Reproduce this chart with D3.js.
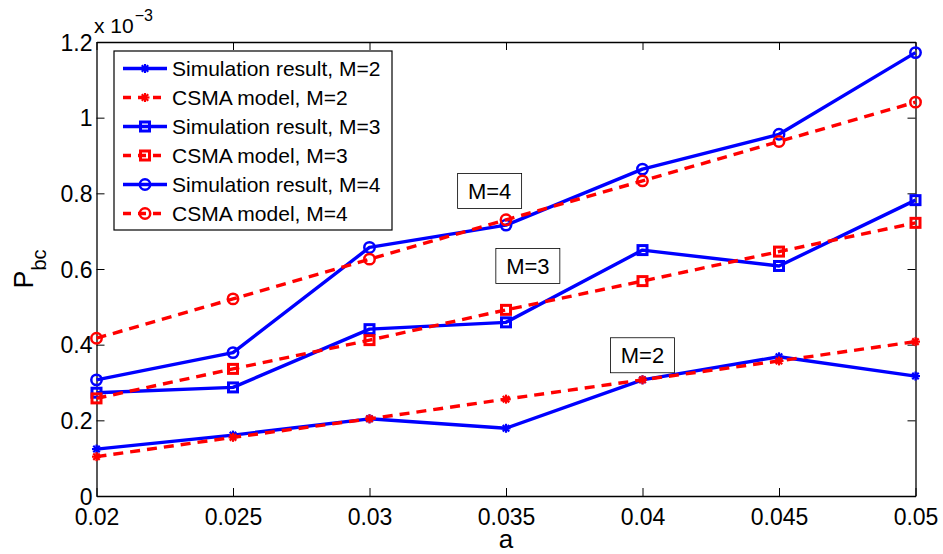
<!DOCTYPE html>
<html>
<head>
<meta charset="utf-8">
<script src="https://cdn.jsdelivr.net/npm/d3@7"></script>
<style>
  body { margin: 0; background: #fff; }
  text { font-family: "Liberation Sans", Arial, sans-serif; fill: #000; }
</style>
</head>
<body>
<script>
// a values (x axis)
const aValues = [0.02, 0.025, 0.03, 0.035, 0.04, 0.045, 0.05];

// P_bc values, in units of 1e-3
const simM2 = [0.124, 0.161, 0.204, 0.179, 0.307, 0.368, 0.317];
const csmaM2 = [0.104, 0.155, 0.204, 0.256, 0.307, 0.357, 0.408];
const simM3 = [0.273, 0.287, 0.441, 0.459, 0.650, 0.608, 0.782];
const csmaM3 = [0.258, 0.336, 0.412, 0.492, 0.568, 0.646, 0.722];
const simM4 = [0.307, 0.379, 0.657, 0.716, 0.864, 0.956, 1.172];
const csmaM4 = [0.417, 0.521, 0.626, 0.730, 0.833, 0.937, 1.041];

const xTicks = [0.02, 0.025, 0.03, 0.035, 0.04, 0.045, 0.05];
const xTickLabels = ["0.02", "0.025", "0.03", "0.035", "0.04", "0.045", "0.05"];
const yTicks = [0, 0.2, 0.4, 0.6, 0.8, 1, 1.2];
const yTickLabels = ["0", "0.2", "0.4", "0.6", "0.8", "1", "1.2"];

const series = [
  { name: "Simulation result, M=2", values: simM2, color: "#0000ff", dash: null, marker: "star" },
  { name: "CSMA model, M=2", values: csmaM2, color: "#ff0000", dash: "10,7", marker: "star" },
  { name: "Simulation result, M=3", values: simM3, color: "#0000ff", dash: null, marker: "square" },
  { name: "CSMA model, M=3", values: csmaM3, color: "#ff0000", dash: "10,7", marker: "square" },
  { name: "Simulation result, M=4", values: simM4, color: "#0000ff", dash: null, marker: "circle" },
  { name: "CSMA model, M=4", values: csmaM4, color: "#ff0000", dash: "10,7", marker: "circle" }
];

// annotation boxes: label, a position, value position (center)
const notes = [
  { label: "M=4", a: 0.0344, v: 0.806 },
  { label: "M=3", a: 0.0358, v: 0.608 },
  { label: "M=2", a: 0.0400, v: 0.372 }
];

const width = 943, height = 554;
const margin = { left: 96.5, right: 943 - 915.5, top: 42, bottom: 554 - 496 };

const svg = d3.select("body").append("svg")
    .attr("width", width)
    .attr("height", height);

const x = d3.scaleLinear().domain([0.02, 0.05]).range([margin.left, width - margin.right]);
const y = d3.scaleLinear().domain([0, 1.2]).range([height - margin.bottom, margin.top]);

const x0 = x.range()[0], x1 = x.range()[1], y0 = y.range()[0], y1 = y.range()[1];

// Axes box with inward ticks on all four sides
const tickLen = 8;
const axes = svg.append("g");
axes.append("g")
    .attr("transform", `translate(0,${y0})`)
    .call(d3.axisBottom(x).tickValues(xTicks).tickSizeInner(-tickLen).tickSizeOuter(0)
      .tickFormat((d, i) => xTickLabels[i]))
    .call(g => g.selectAll("text").attr("y", 29).attr("dy", null).style("font-size", "23px"));
axes.append("g")
    .attr("transform", `translate(0,${y1})`)
    .call(d3.axisTop(x).tickValues(xTicks).tickSizeInner(-tickLen).tickSizeOuter(0).tickFormat(""));
axes.append("g")
    .attr("transform", `translate(${x0},0)`)
    .call(d3.axisLeft(y).tickValues(yTicks).tickSizeInner(-tickLen).tickSizeOuter(0)
      .tickFormat((d, i) => yTickLabels[i]))
    .call(g => g.selectAll("text").attr("x", -4).attr("dy", "0.36em").style("font-size", "23px"));
axes.append("g")
    .attr("transform", `translate(${x1},0)`)
    .call(d3.axisRight(y).tickValues(yTicks).tickSizeInner(-tickLen).tickSizeOuter(0).tickFormat(""));
axes.selectAll(".domain").attr("stroke", "#000").attr("stroke-width", 1.3);
axes.selectAll(".tick line").attr("stroke", "#000").attr("stroke-width", 1);
axes.selectAll("text").attr("font-family", null);

// axis labels
svg.append("text")
    .attr("x", (x0 + x1) / 2).attr("y", 548)
    .attr("text-anchor", "middle")
    .style("font-size", "26px")
    .text("a");

const yl = svg.append("text")
    .attr("transform", `translate(33,${(y0 + y1) / 2}) rotate(-90)`)
    .attr("text-anchor", "middle")
    .style("font-size", "27px");
yl.append("tspan").text("P");
yl.append("tspan").attr("dy", 13).style("font-size", "20px").text("bc");

// exponent
const ex = svg.append("text")
    .attr("x", 94).attr("y", 33)
    .style("font-size", "21px");
ex.append("tspan").text("x 10");
ex.append("tspan").attr("dx", 1).attr("dy", -12).style("font-size", "16px").text("\u22123");

// marker drawing
function drawMarker(g, type, color, cx, cy) {
  if (type === "circle") {
    g.append("circle").attr("cx", cx).attr("cy", cy).attr("r", 5.2)
      .attr("fill", "none").attr("stroke", color).attr("stroke-width", 2.5);
  } else if (type === "square") {
    g.append("rect").attr("x", cx - 4.5).attr("y", cy - 4.5).attr("width", 9).attr("height", 9)
      .attr("fill", "none").attr("stroke", color).attr("stroke-width", 3);
  } else {
    const s = 4.5, d = s * 0.72;
    const segs = [[-s, 0, s, 0], [0, -s, 0, s], [-d, -d, d, d], [-d, d, d, -d]];
    segs.forEach(p => g.append("line")
      .attr("x1", cx + p[0]).attr("y1", cy + p[1]).attr("x2", cx + p[2]).attr("y2", cy + p[3])
      .attr("stroke", color).attr("stroke-width", 2.2));
  }
}

// lines and markers
const line = d3.line().x((d, i) => x(aValues[i])).y(d => y(d));
const plot = svg.append("g");
series.forEach(s => {
  const g = plot.append("g");
  g.append("path")
    .attr("d", line(s.values))
    .attr("fill", "none")
    .attr("stroke", s.color)
    .attr("stroke-width", 3.4)
    .attr("stroke-dasharray", s.dash)
    .attr("stroke-linejoin", "round");
  s.values.forEach((v, i) => drawMarker(g, s.marker, s.color, x(aValues[i]), y(v)));
});

// annotation boxes
notes.forEach(n => {
  const cx = x(n.a), cy = y(n.v);
  const g = svg.append("g");
  g.append("rect")
    .attr("x", cx - 32).attr("y", cy - 17.5).attr("width", 64).attr("height", 35)
    .attr("fill", "#fff").attr("stroke", "#000").attr("stroke-width", 0.8);
  g.append("text")
    .attr("x", cx).attr("y", cy + 8)
    .attr("text-anchor", "middle")
    .style("font-size", "22px")
    .text(n.label);
});

// legend
const legend = svg.append("g");
legend.append("rect")
    .attr("x", 114).attr("y", 51).attr("width", 278).attr("height", 179)
    .attr("fill", "#fff").attr("stroke", "#000").attr("stroke-width", 1.2);
series.forEach((s, i) => {
  const ly = 68.5 + i * 29;
  const g = legend.append("g");
  g.append("line")
    .attr("x1", 123).attr("x2", 167).attr("y1", ly).attr("y2", ly)
    .attr("stroke", s.color).attr("stroke-width", 3.4)
    .attr("stroke-dasharray", s.dash ? "8,7" : null);
  drawMarker(g, s.marker, s.color, 145, ly);
  g.append("text")
    .attr("x", 172).attr("y", ly + 7.5)
    .style("font-size", "21px")
    .text(s.name);
});
</script>
</body>
</html>
